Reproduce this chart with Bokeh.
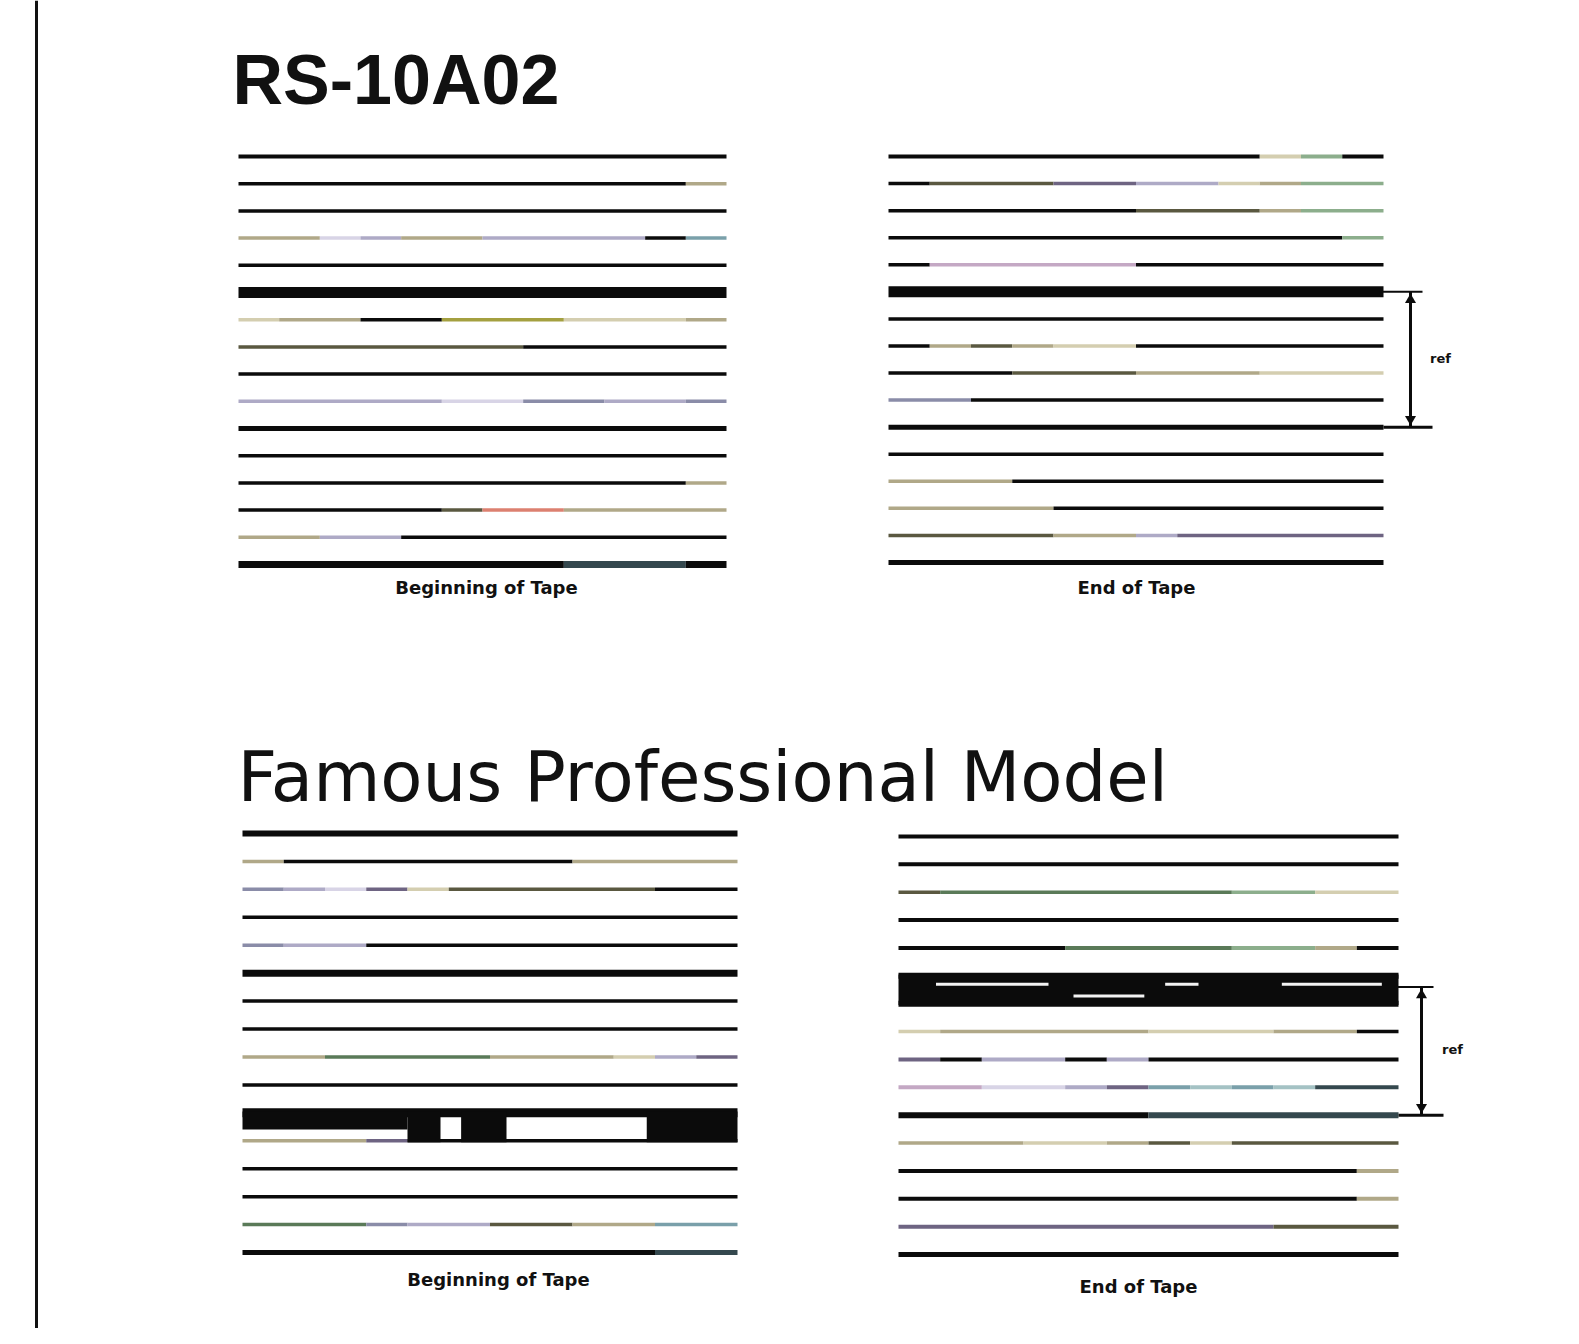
from bokeh.plotting import figure
from bokeh.models import Range1d
from bokeh.embed import file_html
from bokeh.resources import INLINE
from bokeh.core.properties import value

# ---------------- data ----------------
title_rs = "RS-10A02"
title_fam = "Famous Professional Model"
caption_begin = "Beginning of Tape"
caption_end = "End of Tape"
ref_label = "ref"

# Each track = 12 blocks along the tape; one colour code per block
rs_begin_tracks = [
    "kkkkkkkkkkkk", "kkkkkkkkkkkt", "kkkkkkkkkkkk", "ttLlttllllkc",
    "kkkkkkkkkkkk", "kkkkkkkkkkkk", "TttkkoooTTTt", "dddddddkkkkk",
    "kkkkkkkkkkkk", "lllllLLbbllb", "kkkkkkkkkkkk", "kkkkkkkkkkkk",
    "kkkkkkkkkkkt", "kkkkkdsstttt", "ttllkkkkkkkk", "kkkkkkkkeeek",
]
rs_begin_widths = [4, 3.5, 3.5, 3.5, 3.5, 11, 3.5, 3.5, 3.5, 3.5, 5, 3.5, 3.5, 3.5, 3.5, 7]

rs_end_tracks = [
    "kkkkkkkkkTGk", "kdddnnllTtGG", "kkkkkkdddtGG", "kkkkkkkkkkkG",
    "kpppppkkkkkk", "kkkkkkkkkkkk", "kkkkkkkkkkkk", "ktdtTTkkkkkk",
    "kkkdddtttTTT", "bbkkkkkkkkkk", "kkkkkkkkkkkk", "kkkkkkkkkkkk",
    "tttkkkkkkkkk", "ttttkkkkkkkk", "ddddttlnnnnn", "kkkkkkkkkkkk",
]
rs_end_widths = [4, 3.5, 3.5, 3.5, 3.5, 11, 3.5, 3.5, 3.5, 3.5, 5, 3.5, 3.5, 3.5, 3.5, 5]

fam_begin_tracks = [
    "kkkkkkkkkkkk", "tkkkkkkktttt", "blLnTdddddkk", "kkkkkkkkkkkk",
    "bllkkkkkkkkk", "kkkkkkkkkkkk", "kkkkkkkkkkkk", "kkkkkkkkkkkk",
    "ttggggtttTln", "kkkkkkkkkkkk", "kkkkkkkkkkkk", "tttnkkkkkkkk",
    "kkkkkkkkkkkk", "kkkkkkkkkkkk", "gggbllddttcc", "kkkkkkkkkkee",
]
fam_begin_widths = [6, 3.5, 3.5, 3.5, 3.5, 7, 3.5, 3.5, 3.5, 3.5, 9, 3.5, 3.5, 3.5, 3.5, 5]

fam_end_tracks = [
    "kkkkkkkkkkkk", "kkkkkkkkkkkk", "dgggggggGGTT", "kkkkkkkkkkkk",
    "kkkkggggGGtk", "kkkkkkkkkkkk", "kkkkkkkkkkkk", "TtttttTTTttk",
    "nkllklkkkkkk", "ppLLlncCcCee", "kkkkkkeeeeee", "tttTTtdTdddd",
    "kkkkkkkkkkkt", "kkkkkkkkkkkt", "nnnnnnnnnddd", "kkkkkkkkkkkk",
]
fam_end_widths = [4, 4, 3.5, 4, 4, 6, 6, 3.5, 4, 4, 6, 3.5, 4, 4, 4, 5]

# smeared dropout regions: (track_top, track_bottom, block_start, block_end)
fam_begin_blobs = [(10.95, 11.6, 0.0, 4.0), (10.95, 12.05, 4.0, 4.8), (10.95, 12.05, 5.3, 6.4),
                   (10.95, 12.05, 9.8, 12.0)]
fam_end_blobs = [(5.95, 7.05, 0.0, 12.0)]
rs_begin_blobs = []
rs_end_blobs = []

# light gaps inside the smeared block: (track, block_start, block_end)
fam_end_gaps = [(6.3, 0.9, 3.6), (6.72, 4.2, 5.9), (6.3, 6.4, 7.2), (6.3, 9.2, 11.6)]

# reference brackets: (track_top, track_bottom)
rs_end_bracket = (6, 11)
fam_end_bracket = (6.4, 11)

# ---------------- styles / layout ----------------
COLOURS = {
    "k": "#0b0b0b", "t": "#b0a888", "T": "#d4ceb0", "l": "#aeaac6",
    "L": "#d8d4e6", "b": "#8a8ca8", "n": "#6e6482", "d": "#5a5840",
    "o": "#a4a040", "g": "#5a7a58", "G": "#8cae8c", "s": "#dc8070",
    "c": "#7aa0aa", "C": "#a4c2c4", "e": "#34484e", "p": "#c4a8c4",
}

panels = [
    dict(tracks=rs_begin_tracks, widths=rs_begin_widths, blobs=rs_begin_blobs, gaps=[],
         x0=238, x1=726, y_first=156, y_last=564, caption=caption_begin, cap_x=486, cap_y=587,
         bracket=None),
    dict(tracks=rs_end_tracks, widths=rs_end_widths, blobs=rs_end_blobs, gaps=[],
         x0=888, x1=1383, y_first=156, y_last=562, caption=caption_end, cap_x=1136, cap_y=587,
         bracket=rs_end_bracket, br_dx=27, lab_x=1440, lab_y=358),
    dict(tracks=fam_begin_tracks, widths=fam_begin_widths, blobs=fam_begin_blobs, gaps=[],
         x0=242, x1=737, y_first=833, y_last=1252, caption=caption_begin, cap_x=498, cap_y=1279,
         bracket=None),
    dict(tracks=fam_end_tracks, widths=fam_end_widths, blobs=fam_end_blobs, gaps=fam_end_gaps,
         x0=898, x1=1398, y_first=836, y_last=1254, caption=caption_end, cap_x=1138, cap_y=1286,
         bracket=fam_end_bracket, br_dx=23, lab_x=1452, lab_y=1049),
]

W, H = 1563, 1328
p = figure(width=W, height=H, x_range=Range1d(0, W), y_range=Range1d(H, 0),
           output_backend="svg", toolbar_location=None,
           x_axis_location=None, y_axis_location=None, min_border=0)
p.grid.visible = False
p.outline_line_color = None
p.background_fill_color = "white"
p.border_fill_color = "white"

# left margin rule
p.segment(x0=[36], y0=[0], x1=[36], y1=[H], line_color="#111111", line_width=3)

seg = dict(x0=[], y0=[], x1=[], y1=[], c=[], w=[])
for pn in panels:
    nb = 12
    sx = lambda b, pn=pn: pn["x0"] + (pn["x1"] - pn["x0"]) * b / nb
    sy = lambda t, pn=pn: pn["y_first"] + (t - 1) * (pn["y_last"] - pn["y_first"]) / 15.0
    pn["sx"], pn["sy"] = sx, sy
    for i, (pat, w) in enumerate(zip(pn["tracks"], pn["widths"])):
        t = i + 1
        start = 0
        for b in range(1, nb + 1):
            if b == nb or pat[b] != pat[start]:
                seg["x0"].append(sx(start)); seg["x1"].append(sx(b))
                seg["y0"].append(sy(t)); seg["y1"].append(sy(t))
                seg["c"].append(COLOURS[pat[start]]); seg["w"].append(w)
                start = b

p.segment(x0=seg["x0"], y0=seg["y0"], x1=seg["x1"], y1=seg["y1"],
          line_color=seg["c"], line_width=seg["w"], line_cap="butt")

# blobs
bl = dict(l=[], r=[], t=[], b=[])
for pn in panels:
    for (tt, tb, b0, b1) in pn["blobs"]:
        bl["l"].append(pn["sx"](b0)); bl["r"].append(pn["sx"](b1))
        bl["t"].append(pn["sy"](tt)); bl["b"].append(pn["sy"](tb))
p.quad(left=bl["l"], right=bl["r"], top=bl["t"], bottom=bl["b"],
       fill_color="#0b0b0b", line_color=None)

# gaps
gp = dict(x0=[], x1=[], y=[])
for pn in panels:
    for (tt, b0, b1) in pn["gaps"]:
        gp["x0"].append(pn["sx"](b0)); gp["x1"].append(pn["sx"](b1)); gp["y"].append(pn["sy"](tt))
p.segment(x0=gp["x0"], y0=gp["y"], x1=gp["x1"], y1=gp["y"], line_color="#f4f4f4", line_width=3)

# brackets
for pn in panels:
    if pn["bracket"] is None:
        continue
    tt, tb = pn["bracket"]
    xb = pn["x1"] + pn["br_dx"]
    yt, yb = pn["sy"](tt), pn["sy"](tb)
    p.segment(x0=[xb, pn["x1"] - 4, pn["x1"]], y0=[yt, yt, yb],
              x1=[xb, xb + 12, xb + 22], y1=[yb, yt, yb],
              line_color="#0b0b0b", line_width=[3, 2, 3])
    p.scatter(x=[xb], y=[yt + 8], marker="triangle", size=11, fill_color="#0b0b0b", line_color=None)
    p.scatter(x=[xb], y=[yb - 8], marker="inverted_triangle", size=11, fill_color="#0b0b0b", line_color=None)
    p.text(x=[pn["lab_x"]], y=[pn["lab_y"]], text=[ref_label], text_align="center",
           text_baseline="middle", text_font=value("DejaVu Sans"), text_font_style="bold",
           text_font_size="13px", text_color="#111111")

# captions
p.text(x=[pn["cap_x"] for pn in panels], y=[pn["cap_y"] for pn in panels],
       text=[pn["caption"] for pn in panels], text_align="center", text_baseline="middle",
       text_font=value("DejaVu Sans"), text_font_style="bold", text_font_size="18px",
       text_color="#111111")

# titles
p.text(x=[232], y=[79], text=[title_rs], text_align="left", text_baseline="middle",
       text_font=value("Liberation Sans"), text_font_style="bold",
       text_font_size="70px", text_color="#111111")
p.text(x=[237], y=[776], text=[title_fam], text_align="left", text_baseline="middle",
       text_font=value("DejaVu Sans"), text_font_size="69px", text_color="#111111")

open("out.html", "w").write(file_html(p, INLINE))
